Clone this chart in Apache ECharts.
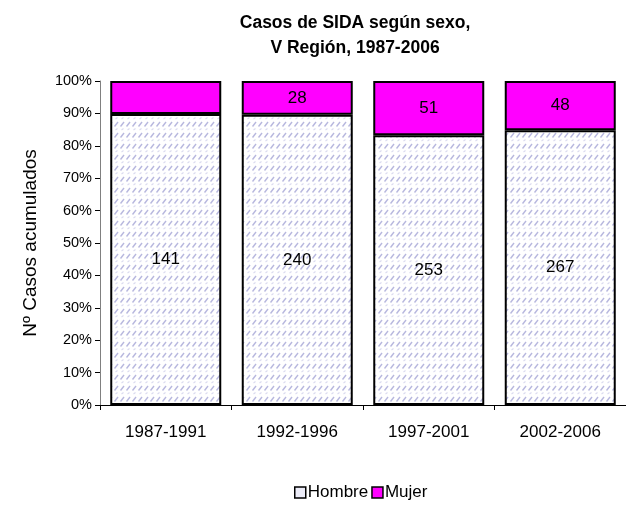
<!DOCTYPE html>
<html>
<head>
<meta charset="utf-8">
<script src="https://cdn.jsdelivr.net/npm/echarts@6/dist/echarts.min.js"></script>
<style>
  html, body { margin: 0; padding: 0; background: #fff; }
  #chart { width: 626px; height: 508px; }
</style>
</head>
<body>
<div id="chart"></div>
<script>
const categories = ["1987-1991", "1992-1996", "1997-2001", "2002-2006"];
const hombre = [141, 240, 253, 267];
const mujer = [16, 28, 51, 48];
const mujerShowLabel = [false, true, true, true];
const yTicks = [0, 10, 20, 30, 40, 50, 60, 70, 80, 90, 100];

const FONT = "'Liberation Sans', Arial, sans-serif";

// hatch pattern for the Hombre bars
function makePattern() {
  const c = document.createElement("canvas");
  c.width = 6;
  c.height = 11;
  const ctx = c.getContext("2d");
  ctx.fillStyle = "#ffffff";
  ctx.fillRect(0, 0, 6, 11);
  ctx.strokeStyle = "rgba(135, 135, 200, 0.6)";
  ctx.lineWidth = 1.4;
  ctx.beginPath();
  ctx.moveTo(0.5, 5.5);
  ctx.lineTo(4, 1);
  ctx.stroke();
  ctx.strokeStyle = "rgba(150, 150, 210, 0.35)";
  ctx.lineWidth = 1.1;
  ctx.beginPath();
  ctx.moveTo(1.5, 9);
  ctx.lineTo(3.5, 7.5);
  ctx.stroke();
  return { image: c, repeat: "repeat" };
}

document.addEventListener("DOMContentLoaded", function () {
  const chart = echarts.init(document.getElementById("chart"));
  const pattern = makePattern();

  const totals = hombre.map((h, i) => h + mujer[i]);
  const hombrePct = hombre.map((h, i) => ({ value: (h / totals[i]) * 100, raw: h }));
  const mujerPct = mujer.map((m, i) => ({
    value: (m / totals[i]) * 100,
    raw: m,
    label: { show: mujerShowLabel[i] },
  }));

  const option = {
    animation: false,
    textStyle: { fontFamily: FONT },
    title: {
      text: "Casos de SIDA según sexo,\nV Región, 1987-2006",
      left: 350,
      top: 6,
      textAlign: "center",
      textStyle: {
        fontSize: 17.5,
        fontWeight: "bold",
        color: "#000",
        lineHeight: 25,
        fontFamily: FONT,
      },
    },
    legend: {
      bottom: 2,
      left: 289,
      icon: "rect",
      itemWidth: 11,
      itemHeight: 11,
      itemGap: 3,
      textStyle: { fontSize: 17, color: "#000", padding: [0, 0, 0, -3], fontFamily: FONT },
      data: [
        { name: "Hombre", itemStyle: { color: "#ececf8", borderColor: "#000", borderWidth: 1.5 } },
        { name: "Mujer", itemStyle: { color: "#ff00ff", borderColor: "#000", borderWidth: 1.5 } },
      ],
    },
    grid: { left: 100, top: 81, width: 530, height: 324 },
    xAxis: {
      type: "category",
      data: categories,
      axisLine: { lineStyle: { color: "#000", width: 1 } },
      axisTick: { show: true, length: 5, lineStyle: { color: "#000" } },
      axisLabel: { fontSize: 17, color: "#000", margin: 19, fontFamily: FONT },
    },
    yAxis: {
      type: "value",
      min: 0,
      max: 100,
      interval: 10,
      name: "Nº Casos acumulados",
      nameLocation: "middle",
      nameGap: 60,
      nameTextStyle: {
        fontSize: 19,
        color: "#000",
        fontFamily: FONT,
      },
      axisLine: { show: true, lineStyle: { color: "#808080" } },
      axisTick: { show: true, length: 5, lineStyle: { color: "#000" } },
      axisLabel: {
        fontSize: 14.5,
        color: "#000",
        margin: 8,
        fontFamily: FONT,
        formatter: function (v) {
          return yTicks.indexOf(v) >= 0 ? v + "%" : "";
        },
      },
      splitLine: { show: false },
    },
    series: [
      {
        name: "Hombre",
        type: "bar",
        stack: "total",
        barWidth: 111,
        data: hombrePct,
        itemStyle: { color: pattern, borderColor: "#000", borderWidth: 2 },
        label: {
          show: true,
          position: "inside",
          fontSize: 17,
          color: "#000",
          fontFamily: FONT,
          formatter: (p) => p.data.raw,
        },
      },
      {
        name: "Mujer",
        type: "bar",
        stack: "total",
        barWidth: 111,
        data: mujerPct,
        itemStyle: { color: "#ff00ff", borderColor: "#000", borderWidth: 2 },
        label: {
          show: true,
          position: "inside",
          fontSize: 17,
          color: "#000",
          fontFamily: FONT,
          formatter: (p) => p.data.raw,
        },
      },
    ],
  };
  chart.setOption(option);

  window.addEventListener("resize", function () {
    chart.resize();
  });
});
</script>
</body>
</html>
